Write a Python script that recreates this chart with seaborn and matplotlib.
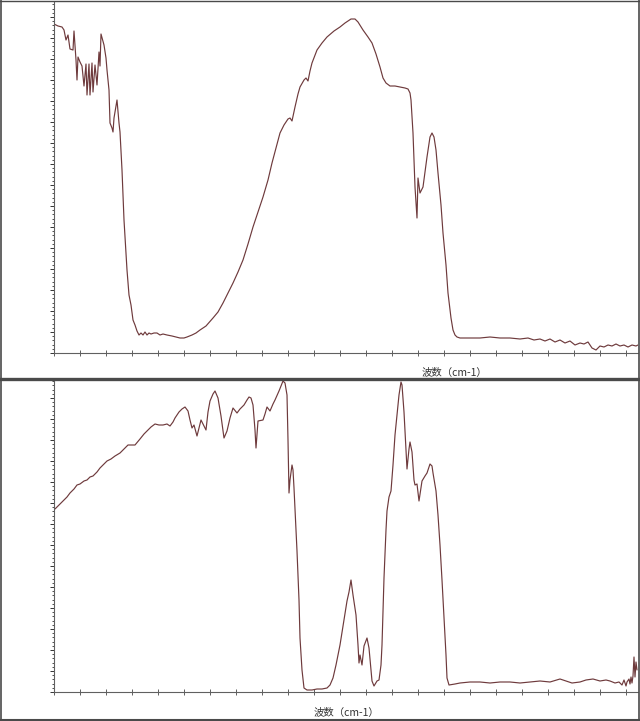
import numpy as np
import pandas as pd
import matplotlib
matplotlib.use("Agg")
import matplotlib.pyplot as plt
from matplotlib.lines import Line2D
from matplotlib.ticker import FixedLocator, MultipleLocator
import seaborn as sns

# --- spectre 1 (haut) : nombre d'onde (cm-1) / transmittance (%) ---
wn_top = [4000, 3976, 3952, 3940, 3928, 3916, 3904, 3886, 3880, 3868, 3862, 3856, 3844, 3832,
          3820, 3808, 3802, 3790, 3784, 3772, 3766, 3754, 3742, 3730, 3724, 3718, 3700, 3688,
          3682, 3670, 3664, 3652, 3646, 3640, 3622, 3610, 3604, 3592, 3580, 3562, 3550, 3538,
          3526, 3514, 3502, 3490, 3478, 3466, 3454, 3442, 3430, 3418, 3400, 3382, 3364, 3346,
          3322, 3292, 3268, 3244, 3220, 3202, 3172, 3148, 3124, 3088, 3046, 3016, 2986, 2956,
          2926, 2896, 2866, 2836, 2806, 2776, 2746, 2716, 2692, 2668, 2644, 2620, 2596, 2584,
          2572, 2554, 2536, 2524, 2500, 2488, 2476, 2464, 2452, 2422, 2392, 2362, 2320, 2284,
          2254, 2236, 2218, 2194, 2176, 2146, 2116, 2092, 2068, 2044, 2026, 2008, 1984, 1954,
          1924, 1894, 1876, 1864, 1858, 1846, 1834, 1822, 1816, 1804, 1786, 1774, 1762, 1744,
          1732, 1720, 1708, 1696, 1678, 1666, 1648, 1636, 1618, 1606, 1594, 1582, 1564, 1504,
          1444, 1384, 1324, 1264, 1204, 1156, 1120, 1084, 1054, 1024, 994, 964, 934, 904, 874,
          844, 820, 796, 772, 748, 724, 700, 676, 652, 628, 604, 580, 556, 532, 508, 496]
t_top = [98.7, 98.1, 97.8, 96.9, 93.9, 95.4, 91.2, 90.9, 96.6, 87.9, 81.9, 88.8, 87.3, 86.1,
         80.1, 86.7, 77.4, 86.7, 77.4, 87.0, 78.3, 86.4, 80.4, 90.3, 86.1, 95.7, 92.4, 88.5,
         84.9, 78.9, 69.0, 67.5, 66.3, 70.5, 75.9, 69.0, 66.3, 54.9, 39.9, 24.9, 17.4, 14.4,
         9.9, 8.4, 6.6, 5.4, 6.0, 5.4, 6.3, 5.4, 6.0, 5.7, 6.0, 6.0, 5.4, 5.7,
         5.4, 5.1, 4.8, 4.5, 4.5, 4.8, 5.4, 6.0, 6.9, 8.1, 10.5, 12.3, 15.0, 18.0,
         21.0, 24.3, 27.9, 32.7, 37.8, 42.3, 46.8, 51.9, 57.0, 61.5, 66.0, 68.4, 70.2, 70.5,
         69.6, 73.8, 77.7, 79.8, 81.9, 82.5, 81.6, 84.6, 87.0, 90.9, 93.0, 94.8, 96.6, 97.8,
         99.0, 99.6, 100.2, 100.2, 99.3, 96.9, 94.8, 93.0, 89.7, 85.8, 82.5, 81.0, 80.1, 80.1,
         79.8, 79.5, 79.2, 78.0, 75.9, 66.0, 49.8, 40.5, 52.5, 48.0, 49.8, 54.3, 58.8, 64.8,
         66.0, 64.8, 60.9, 54.0, 44.4, 36.0, 26.4, 18.0, 10.5, 6.9, 5.4, 4.8, 4.5, 4.5,
         4.5, 4.8, 4.5, 4.5, 4.2, 4.5, 3.9, 4.2, 3.6, 4.2, 3.3, 3.9, 3.0, 3.6, 2.4,
         3.0, 2.7, 3.3, 1.5, 0.9, 2.1, 1.8, 2.4, 2.1, 2.7, 2.1, 2.4, 1.8, 2.4, 2.1, 2.4]

# --- spectre 2 (bas) ---
wn_bot = [3994, 3982, 3964, 3940, 3922, 3904, 3880, 3862, 3844, 3820, 3802, 3784, 3766, 3742,
          3724, 3700, 3682, 3658, 3634, 3604, 3580, 3556, 3532, 3514, 3484, 3460, 3442, 3418,
          3394, 3370, 3346, 3322, 3304, 3286, 3274, 3250, 3232, 3214, 3196, 3184, 3172, 3160,
          3142, 3130, 3118, 3106, 3088, 3076, 3064, 3046, 3034, 3016, 2998, 2980, 2962, 2944,
          2926, 2902, 2884, 2860, 2842, 2830, 2818, 2806, 2794, 2788, 2776, 2746, 2734, 2722,
          2704, 2686, 2674, 2650, 2626, 2614, 2602, 2596, 2590, 2584, 2572, 2566, 2560, 2548,
          2542, 2530, 2524, 2512, 2500, 2482, 2452, 2422, 2392, 2362, 2344, 2326, 2308, 2284,
          2260, 2242, 2230, 2218, 2206, 2194, 2188, 2176, 2170, 2164, 2158, 2152, 2140, 2122,
          2110, 2098, 2092, 2080, 2062, 2050, 2038, 2032, 2020, 2008, 2002, 1990, 1978, 1966,
          1954, 1942, 1930, 1918, 1912, 1900, 1888, 1882, 1870, 1864, 1852, 1840, 1834, 1822,
          1810, 1798, 1792, 1774, 1762, 1744, 1732, 1726, 1708, 1696, 1684, 1672, 1660, 1648,
          1642, 1630, 1594, 1564, 1504, 1444, 1384, 1324, 1264, 1204, 1144, 1084, 1024, 964,
          928, 892, 844, 808, 766, 724, 688, 664, 634, 610, 592, 580, 568, 562, 550, 544,
          538, 532, 526, 520, 514, 508, 502]
t_bot = [54.9, 55.5, 56.4, 57.6, 58.5, 59.7, 60.9, 62.1, 62.4, 63.3, 63.6, 64.5, 64.8, 66.0,
         67.2, 68.4, 69.3, 69.9, 70.8, 71.7, 72.9, 74.1, 74.1, 74.1, 75.9, 77.4, 78.3, 79.5,
         80.4, 80.1, 80.1, 80.4, 79.8, 81.0, 82.2, 84.0, 84.9, 85.5, 84.3, 81.6, 79.2, 80.1,
         76.8, 79.2, 81.6, 80.4, 78.6, 84.0, 87.3, 89.4, 90.3, 88.2, 82.8, 76.2, 78.3, 82.2,
         85.2, 83.7, 84.9, 86.1, 87.6, 88.5, 88.2, 86.1, 78.6, 73.2, 81.3, 81.6, 83.4, 85.5,
         84.3, 86.4, 87.6, 90.3, 93.3, 92.7, 89.1, 75.6, 59.7, 63.6, 68.1, 66.6, 61.2, 48.6,
         42.3, 27.6, 16.2, 6.6, 1.2, 0.6, 0.6, 0.9, 0.9, 1.2, 2.1, 4.2, 8.1, 14.1,
         21.6, 27.3, 30.0, 33.6, 29.1, 25.2, 23.1, 14.1, 8.7, 11.1, 9.6, 8.1, 13.8, 16.2,
         13.2, 6.6, 3.3, 1.8, 3.3, 3.6, 8.1, 14.1, 34.2, 48.6, 54.3, 58.5, 60.3, 68.1,
         77.1, 83.1, 89.1, 93.0, 92.1, 84.0, 72.9, 66.9, 72.9, 75.0, 72.0, 63.6, 62.1, 62.4,
         57.3, 61.2, 63.3, 64.8, 65.7, 68.4, 67.8, 65.7, 60.3, 53.1, 44.1, 33.6, 22.2, 11.1,
         4.2, 2.1, 2.4, 2.7, 3.0, 3.0, 2.7, 3.0, 3.0, 2.7, 3.0, 3.3, 3.0, 3.9,
         3.3, 2.7, 3.0, 3.6, 3.9, 3.3, 3.6, 3.3, 2.7, 3.0, 2.1, 3.6, 1.8, 3.0, 3.9, 2.4,
         4.5, 2.7, 4.8, 10.5, 4.5, 9.0, 6.6]

x_label = "波数（cm-1）"

sns.set_style("white")
plt.rcParams['font.family'] = ['Noto Sans CJK SC', 'DejaVu Sans']

fig = plt.figure(figsize=(6.4, 7.21), dpi=100)
W, H = 640.0, 721.0

def px_axes(x0, y0, x1, y1):
    # rectangle en pixels (origine en haut à gauche)
    return fig.add_axes([x0 / W, 1 - y1 / H, (x1 - x0) / W, (y1 - y0) / H])

ax_top = px_axes(54, 2, 638, 353)
ax_bot = px_axes(54, 381, 638, 692)

line_color = '#6e3a3c'
axis_color = '#606060'

panels = [
    (ax_top, wn_top, t_top, 105.3),
    (ax_bot, wn_bot, t_bot, 93.3),
]
for ax, wn, tr, ymax in panels:
    df = pd.DataFrame({'wn': wn, 't': tr})
    sns.lineplot(data=df, x='wn', y='t', ax=ax, sort=False, estimator=None,
                 color=line_color, linewidth=0.85)
    ax.set_xlim(4000, 496)
    ax.set_ylim(0, ymax)
    ax.set_xlabel('')
    ax.set_ylabel('')
    ax.set_facecolor('white')
    for s in ['top', 'right']:
        ax.spines[s].set_visible(False)
    for s in ['left', 'bottom']:
        ax.spines[s].set_color(axis_color)
        ax.spines[s].set_linewidth(0.8)
    ax.xaxis.set_major_locator(FixedLocator(np.arange(4000, 496, -156)))
    ax.yaxis.set_major_locator(MultipleLocator(6.3))
    ax.yaxis.set_minor_locator(MultipleLocator(1.26))
    ax.tick_params(axis='x', which='major', direction='inout', length=4, width=0.7,
                   color=axis_color, labelbottom=False)
    ax.tick_params(axis='y', which='major', direction='out', length=3, width=0.7,
                   color='#333333', labelleft=False)
    ax.tick_params(axis='y', which='minor', direction='out', length=1.5, width=0.6,
                   color='#333333')
    ax.tick_params(left=True, bottom=True, which='both')

fig.text(454 / W, 1 - 373 / H, x_label, ha='center', va='center', fontsize=7.5, color='#333333')
fig.text(346 / W, 1 - 713 / H, x_label, ha='center', va='center', fontsize=7.5, color='#333333')

# cadres des deux fenêtres
frame_color = '#4a4a4a'
def hline(py, lw):
    fig.add_artist(Line2D([0, 1], [1 - py / H, 1 - py / H], color=frame_color, linewidth=lw,
                          transform=fig.transFigure))
def vline(px, lw):
    fig.add_artist(Line2D([px / W, px / W], [0, 1], color=frame_color, linewidth=lw,
                          transform=fig.transFigure))

hline(0.5, 1.0)
hline(378.5, 2.4)
hline(720, 1.5)
vline(0.8, 1.2)
vline(639, 1.2)

fig.savefig('out.png', dpi=100, facecolor='white')
